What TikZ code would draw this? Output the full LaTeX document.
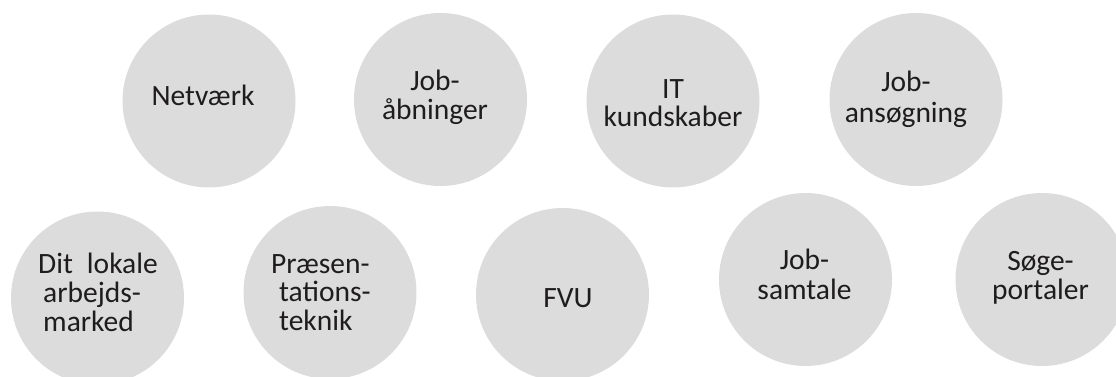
\documentclass[tikz,border=0pt]{standalone}
\usepackage{fontspec}
\setmainfont{Carlito}
\definecolor{bubblegray}{RGB}{220,220,220}
\definecolor{inkdark}{RGB}{30,28,28}
\tikzset{
  bubble/.style={circle, fill=bubblegray, draw=none, minimum size=173pt, inner sep=0pt},
  txt/.style={inner sep=0pt, text=inkdark, anchor=base, align=center, font=\fontsize{29.5}{28.6}\selectfont},
  txtl/.style={txt, anchor=base west, align=left},
}
\begin{document}
\begin{tikzpicture}[x=1pt, y=-1pt]
\useasboundingbox (0,0) rectangle (1116,377);
\clip (0,0) rectangle (1116,377);
% top row
\node[bubble] (c1) at (209,101) {};
\node[bubble] (c2) at (440.5,99.5) {};
\node[bubble] (c3) at (673,101) {};
\node[bubble] (c4) at (916,99.5) {};
% bottom row
\node[bubble] (c5) at (97.5,298) {};
\node[bubble] (c6) at (330,292.5) {};
\node[bubble] (c7) at (562.5,294.5) {};
\node[bubble] (c8) at (805.5,279.5) {};
\node[bubble] (c9) at (1042,279.5) {};
% labels (anchor = baseline of the last line)
\node[txt] (t1) at (203,106) {Netværk};
\node[txt] (t2) at (435,119.3) {Job-\\åbninger};
\node[txt] (t3) at (673,126.7) {IT\\kundskaber};
\node[txt, font=\fontsize{29.5}{30.5}\selectfont] (t4) at (906,122.5) {Job-\\ansøgning};
\node[txtl] (t5) at (38,331) {Dit\hspace{14pt}lokale\\\hspace*{5pt}arbejds-\\\hspace*{5pt}marked};
\node[txtl] (t6) at (271,330.5) {Præsen-\\\hspace*{8pt}tations-\\\hspace*{8pt}teknik};
\node[txt] (t7) at (568,307.3) {FVU};
\node[txt, font=\fontsize{29.5}{29.7}\selectfont] (t8) at (804.5,299) {Job-\\samtale};
\node[txt, font=\fontsize{29.5}{29.5}\selectfont] (t9) at (1040.5,299.5) {Søge-\\portaler};
\end{tikzpicture}
\end{document}
